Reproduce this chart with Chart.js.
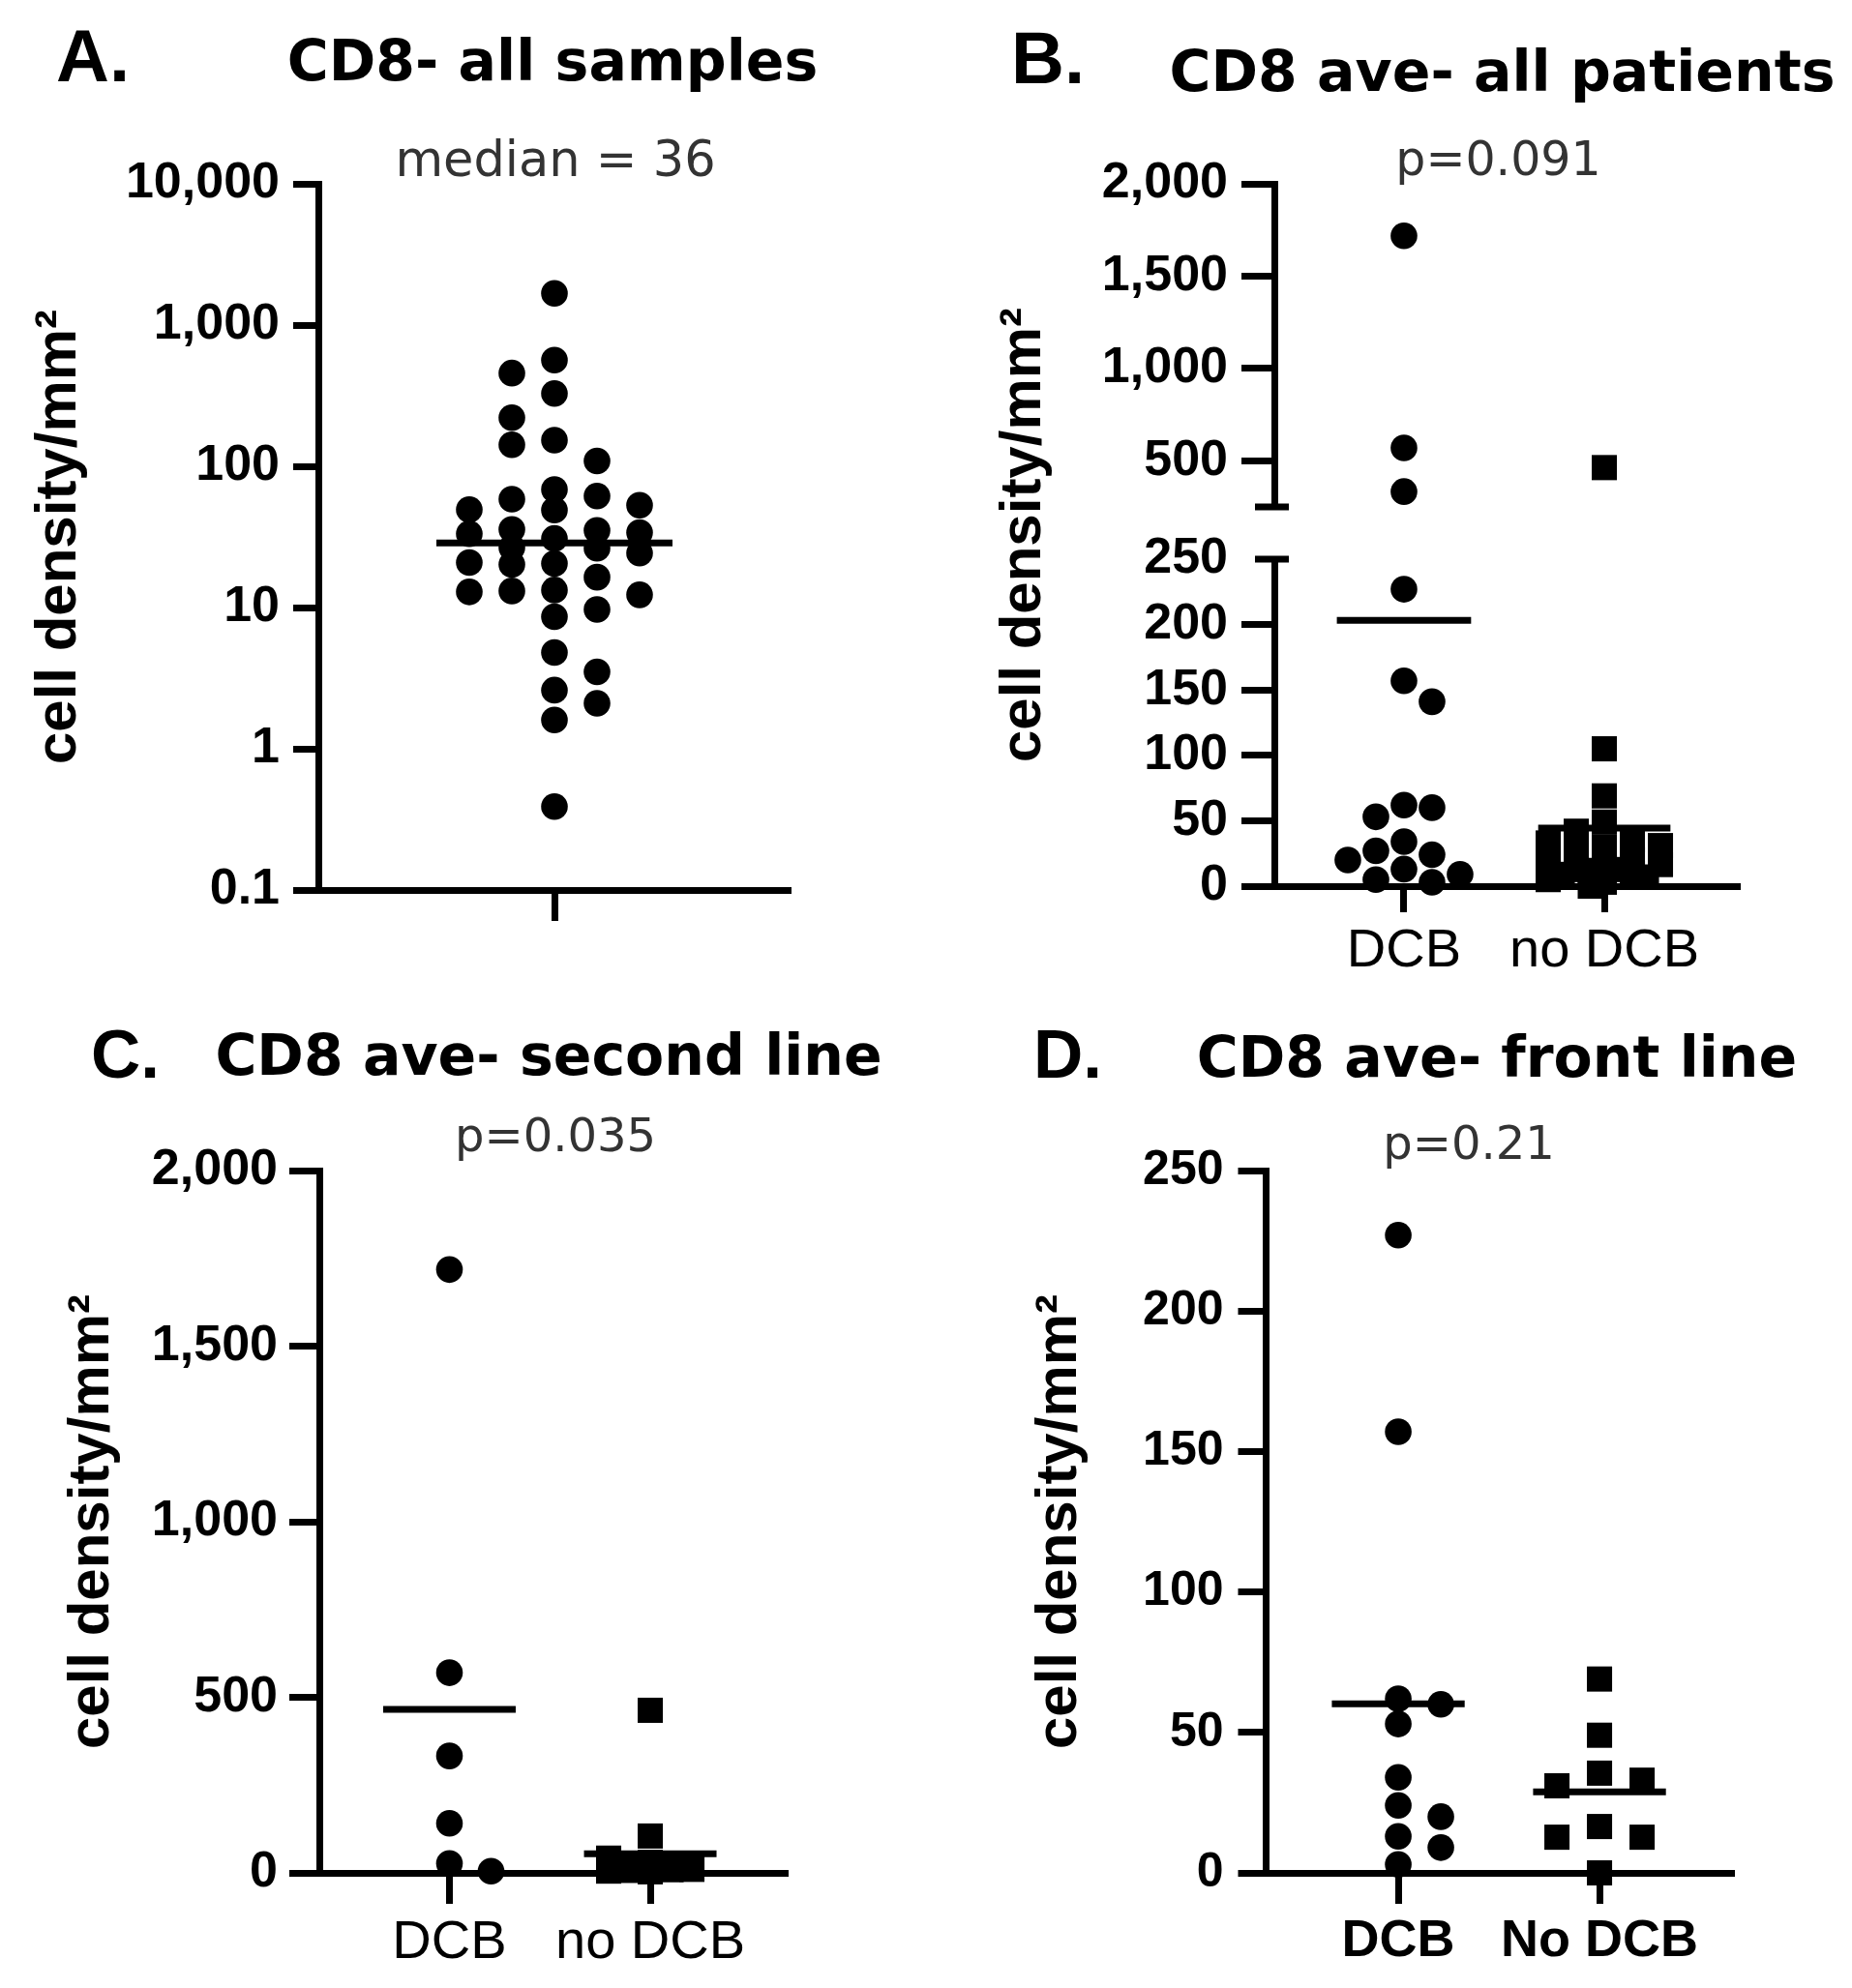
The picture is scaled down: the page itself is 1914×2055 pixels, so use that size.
<!DOCTYPE html>
<html>
<head>
<meta charset="utf-8">
<title>CD8 cell density</title>
<script src="https://cdn.jsdelivr.net/npm/chart.js@4.4.1/dist/chart.umd.min.js"></script>
<style>
  html, body { margin: 0; padding: 0; background: #fff; }
  #page { position: relative; width: 1914px; height: 2055px; }
  #page canvas { position: absolute; left: 0; top: 0; }
</style>
</head>
<body>
<div id="page">
  <canvas id="panelA" width="1914" height="2055"></canvas>
  <canvas id="panelB" width="1914" height="2055"></canvas>
  <canvas id="panelC" width="1914" height="2055"></canvas>
  <canvas id="panelD" width="1914" height="2055"></canvas>
</div>
<script>
// CD8 density (cells/mm2)
const allSamples = [1675, 564, 457, 328, 221, 153, 142, 109, 68.5, 61.6, 58.5, 53, 49.4, 49,
  35.7, 35.2, 33.9, 33.3, 30.8, 26.6, 26.3, 24.3, 20.8, 20.5, 20.2, 16.4, 13.3, 13.1, 12.9,
  12.3, 9.7, 8.6, 4.8, 3.5, 2.6, 2.1, 1.6, 0.39];
const secondDCB = [1718, 570, 333, 141, 27, 5];
const secondNoDCB = [463, 105, 42, 30, 24, 20, 17, 14, 12, 10, 9, 7, 5, 3];
const frontDCB = [227, 157, 62, 60, 53, 34, 24, 20, 13, 9, 3];
const frontNoDCB = [69, 49, 35.5, 33, 31, 16.5, 12.7, 12.7, 0];
// all patients = second line + front line
const allDCB = secondDCB.concat(frontDCB);
const allNoDCB = secondNoDCB.concat(frontNoDCB);

const groupsLower = ['DCB', 'no DCB'];
const groupsUpper = ['DCB', 'No DCB'];
const logTicks = [0.1, 1, 10, 100, 1000, 10000];
const ticksBTop = [500, 1000, 1500, 2000];
const ticksBBottom = [0, 50, 100, 150, 200, 250];
const ticksC = [0, 500, 1000, 1500, 2000];
const ticksD = [0, 50, 100, 150, 200, 250];

Chart.defaults.color = '#000';
Chart.defaults.font.family = '"Liberation Sans", Arial, sans-serif';
Chart.defaults.animation = false;
Chart.defaults.events = [];
Chart.defaults.plugins.legend.display = false;
Chart.defaults.plugins.tooltip.enabled = false;

const fmt = v => Number(v).toLocaleString('en-US');
const mean = a => a.reduce((s, v) => s + v, 0) / a.length;
function median(a) {
  const s = [...a].sort((p, q) => p - q);
  const m = s.length >> 1;
  return s.length % 2 ? s[m] : (s[m - 1] + s[m]) / 2;
}

const TITLE_FONT = 'bold 58.5px "DejaVu Sans"';
const SUB_COLOR = '#333';
const axisTitle = {display: true, text: 'cell density/mm²', padding: 0,
  font: {size: 60, weight: 'bold', lineHeight: 1}};

function dots(values, x, style, axis) {
  return {
    data: values.map(v => ({x: x, y: v})),
    yAxisID: axis || 'y',
    group: 'g' + x,
    pointStyle: style,
    pointRadius: style === 'rect' ? 18.4 : 13.8,
    pointBackgroundColor: '#000',
    pointBorderWidth: 0,
    clip: false
  };
}

function bar(value, x, half, axis) {
  return {
    data: [{x: x - half, y: value}, {x: x + half, y: value}],
    yAxisID: axis || 'y',
    showLine: true,
    borderColor: '#000',
    borderWidth: 7,
    pointRadius: 0,
    clip: false
  };
}

function valueAxis(o) {
  return {
    type: o.type || 'linear',
    position: 'left',
    min: o.min,
    max: o.max,
    afterBuildTicks: s => { s.ticks = o.ticks.map(v => ({value: v})); },
    afterFit: s => { s.width = o.width; },
    ticks: {autoSkip: false, padding: o.pad, font: {size: o.font || 52, weight: 'bold'}, callback: v => fmt(v)},
    grid: {drawOnChartArea: false, tickLength: o.tick, tickWidth: 7, tickColor: o.tickColor || '#000'},
    border: {color: '#000', width: 7},
    title: o.title ? axisTitle : {display: false}
  };
}

function groupAxis(o) {
  return {
    type: 'linear',
    position: 'bottom',
    min: o.min,
    max: o.max,
    afterBuildTicks: s => { s.ticks = o.at.map(v => ({value: v})); },
    afterFit: s => { s.height = 100; },
    ticks: {autoSkip: false, display: !!o.labels, padding: 7, maxRotation: 0,
      font: o.font, callback: (v, i) => o.labels ? o.labels[i] : ''},
    grid: {drawOnChartArea: false, tickLength: o.tick, tickWidth: 7, tickColor: '#000'},
    border: {color: '#000', width: 7}
  };
}

// titles, p values and panel letters, placed against the plot area
function panelText(items) {
  return {
    id: 'panelText',
    afterDraw(chart) {
      const {ctx, chartArea: a} = chart;
      ctx.save();
      ctx.textBaseline = 'alphabetic';
      items.forEach(t => {
        ctx.font = t.font;
        ctx.fillStyle = t.color || '#000';
        ctx.textAlign = t.left ? 'left' : 'center';
        const x = t.left ? a.left + t.dx : (a.left + a.right) / 2 + (t.dx || 0);
        ctx.fillText(t.text, x, a.top + t.dy);
      });
      ctx.restore();
    }
  };
}

// axis break marks for panel B
const breakMarks = {
  id: 'breakMarks',
  afterDraw(chart) {
    const {ctx} = chart;
    const top = chart.scales.yTop, bot = chart.scales.yBot;
    const x = top.right;
    ctx.save();
    ctx.strokeStyle = '#000';
    ctx.lineWidth = 7;
    ctx.beginPath();
    [top.bottom, bot.top].forEach(y => { ctx.moveTo(x - 20, y); ctx.lineTo(x + 15, y); });
    ctx.stroke();
    ctx.restore();
  }
};

// simple swarm: top to bottom, nearest free slot on a half-step grid
function beeswarm(ys, w, h, maxW) {
  const order = ys.map((y, i) => i).sort((a, b) => ys[a] - ys[b]);
  const placed = [];
  const xs = [];
  const step = w / 2;
  order.forEach((i, n) => {
    const sides = n % 2 ? [1, -1] : [-1, 1];
    let best = 0, bestGap = -1;
    search:
    for (let k = 0; k * step <= maxW; k++) {
      for (const s of sides) {
        const x = s * k * step;
        let gap = Infinity;
        for (const p of placed) {
          gap = Math.min(gap, Math.max(Math.abs(p.x - x) / w, Math.abs(p.y - ys[i]) / h));
        }
        if (gap >= 1) { best = x; break search; }
        if (gap > bestGap) { bestGap = gap; best = x; }
      }
    }
    xs[i] = best;
    placed.push({x: best, y: ys[i]});
  });
  return xs;
}

function spread(chart, w, h, maxW) {
  const xScale = chart.scales.x;
  const groups = {};
  chart.data.datasets.forEach(ds => {
    if (!ds.group) return;
    const yScale = chart.scales[ds.yAxisID];
    ds.data.forEach(p => {
      (groups[ds.group] = groups[ds.group] || []).push({p: p, py: yScale.getPixelForValue(p.y)});
    });
  });
  Object.values(groups).forEach(pts => {
    const off = beeswarm(pts.map(q => q.py), w, h, maxW);
    pts.forEach((q, i) => { q.nx = xScale.getValueForPixel(xScale.getPixelForValue(q.p.x) + off[i]); });
    pts.forEach(q => { q.p.x = q.nx; });
  });
  chart.data.datasets.forEach(ds => {
    if (ds.group) ds.data = ds.data.map(p => ({x: p.x, y: p.y}));
  });
  chart.update('none');
}

// A. all samples, log scale
const chartA = new Chart(document.getElementById('panelA'), {
  type: 'scatter',
  data: {datasets: [dots(allSamples, 1, 'circle'), bar(median(allSamples), 1, 0.5)]},
  options: {
    responsive: false,
    devicePixelRatio: 1,
    layout: {padding: {left: 31, right: 1097, top: 190, bottom: 1035}},
    scales: {
      x: groupAxis({min: 0, max: 2, at: [1], tick: 32}),
      y: valueAxis({type: 'logarithmic', min: 0.1, max: 10000, ticks: logTicks, width: 298, pad: 14, tick: 26, title: true})
    }
  },
  plugins: [panelText([
    {text: 'A.', font: 'bold 76px "Liberation Sans"', left: true, dx: -271, dy: -106},
    {text: 'CD8- all samples', font: TITLE_FONT, dx: -2, dy: -107},
    {text: 'median = 36', font: '51px "DejaVu Sans"', color: SUB_COLOR, dx: 1, dy: -8}
  ])]
});
spread(chartA, 44, 26, 112);

// B. patient averages, broken axis
const chartB = new Chart(document.getElementById('panelB'), {
  type: 'scatter',
  data: {datasets: [
    dots(allDCB.filter(v => v > 250), 1, 'circle', 'yTop'),
    dots(allDCB.filter(v => v <= 250), 1, 'circle', 'yBot'),
    dots(allNoDCB.filter(v => v > 250), 2, 'rect', 'yTop'),
    dots(allNoDCB.filter(v => v <= 250), 2, 'rect', 'yBot'),
    bar(mean(allDCB), 1, 0.335, 'yBot'),
    bar(mean(allNoDCB), 2, 0.33, 'yBot')
  ]},
  options: {
    responsive: false,
    devicePixelRatio: 1,
    layout: {padding: {left: 1028, right: 116, top: 190, bottom: 1039}},
    scales: {
      x: groupAxis({min: 0.353, max: 2.676, at: [1, 2], labels: groupsLower, tick: 27, font: {size: 56}}),
      yTitle: {type: 'linear', position: 'left', weight: 10,
        afterFit: s => { s.width = 60; },
        ticks: {display: false}, grid: {display: false}, border: {display: false}, title: axisTitle},
      yTop: Object.assign(valueAxis({min: 250, max: 2000, ticks: ticksBTop, width: 229, pad: 14, tick: 34}),
        {stack: 'b', stackWeight: 334, weight: 3}),
      yGap: {type: 'linear', position: 'left', stack: 'b', stackWeight: 54, weight: 2,
        afterFit: s => { s.width = 229; },
        ticks: {display: false}, grid: {display: false}, border: {display: false}},
      yBot: Object.assign(valueAxis({min: 0, max: 250, ticks: ticksBBottom, width: 229, pad: 14, tick: 34,
        tickColor: c => (c.tick && c.tick.value === 250) ? 'rgba(0,0,0,0)' : '#000'}),
        {stack: 'b', stackWeight: 338, weight: 1})
    }
  },
  plugins: [breakMarks, panelText([
    {text: 'B.', font: 'bold 76px "Liberation Sans"', left: true, dx: -272, dy: -104},
    {text: 'CD8 ave- all patients', font: TITLE_FONT, dx: -5, dy: -96},
    {text: 'p=0.091', font: '49px "DejaVu Sans"', color: SUB_COLOR, dx: -9, dy: -9}
  ])]
});
spread(chartB, 29, 27, 58);

// C. second line
const chartC = new Chart(document.getElementById('panelC'), {
  type: 'scatter',
  data: {datasets: [
    dots(secondDCB, 1, 'circle'),
    dots(secondNoDCB, 2, 'rect'),
    bar(mean(secondDCB), 1, 0.33),
    bar(mean(secondNoDCB), 2, 0.33)
  ]},
  options: {
    responsive: false,
    devicePixelRatio: 1,
    layout: {padding: {left: 65, right: 1100, top: 1210, bottom: 19}},
    scales: {
      x: groupAxis({min: 0.352, max: 2.684, at: [1, 2], labels: groupsLower, tick: 32, font: {size: 56}}),
      y: valueAxis({min: 0, max: 2000, ticks: ticksC, width: 265, pad: 12, tick: 31, title: true})
    }
  },
  plugins: [panelText([
    {text: 'C.', font: 'bold 71px "Liberation Sans"', left: true, dx: -236, dy: -96},
    {text: 'CD8 ave- second line', font: TITLE_FONT, dx: -5, dy: -99},
    {text: 'p=0.035', font: '48px "DejaVu Sans"', color: SUB_COLOR, dx: 2, dy: -20}
  ])]
});
spread(chartC, 43, 26, 60);

// D. front line
const chartD = new Chart(document.getElementById('panelD'), {
  type: 'scatter',
  data: {datasets: [
    dots(frontDCB, 1, 'circle'),
    dots(frontNoDCB, 2, 'rect'),
    bar(mean(frontDCB), 1, 0.33),
    bar(mean(frontNoDCB), 2, 0.33)
  ]},
  options: {
    responsive: false,
    devicePixelRatio: 1,
    layout: {padding: {left: 1065, right: 122, top: 1210, bottom: 19}},
    scales: {
      x: groupAxis({min: 0.341, max: 2.668, at: [1, 2], labels: groupsUpper, tick: 32, font: {size: 54, weight: 'bold'}}),
      y: valueAxis({min: 0, max: 250, ticks: ticksD, width: 243, pad: 15, tick: 28.5, font: 50, title: true})
    }
  },
  plugins: [panelText([
    {text: 'D.', font: 'bold 71px "Liberation Sans"', left: true, dx: -240, dy: -96},
    {text: 'CD8 ave- front line', font: TITLE_FONT, dx: -3, dy: -97},
    {text: 'p=0.21', font: '48px "DejaVu Sans"', color: SUB_COLOR, dx: -32, dy: -12}
  ])]
});
spread(chartD, 44, 26, 50);
</script>
</body>
</html>
